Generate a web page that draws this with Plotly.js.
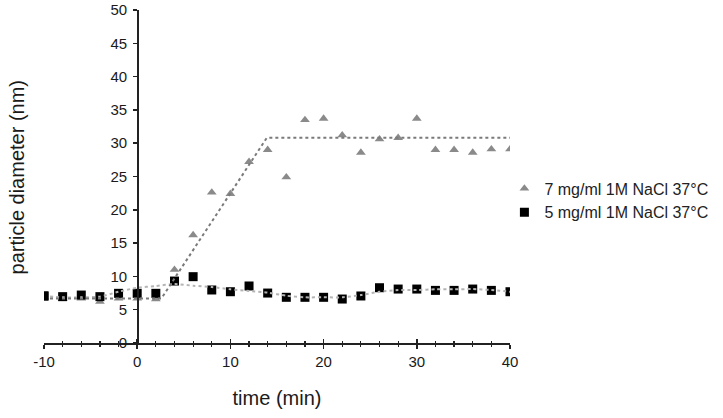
<!DOCTYPE html>
<html>
<head>
<meta charset="utf-8">
<script src="https://cdn.plot.ly/plotly-3.0.1.min.js"></script>
<style>html,body{margin:0;padding:0;background:#fff;}#chart{width:723px;height:418px;}</style>
</head>
<body>
<div id="chart"></div>
<script>
// time points (min)
const timeMin = [-10,-8,-6,-4,-2,0,2,4,6,8,10,12,14,16,18,20,22,24,26,28,30,32,34,36,38,40];
// 7 mg/ml 1M NaCl 37°C (triangles)
const diam7 = [6.9,6.7,6.7,6.2,6.7,6.7,6.6,11.0,16.2,22.6,22.4,27.2,29.0,24.9,33.5,33.7,31.2,28.6,30.6,30.8,33.7,29.0,29.0,28.6,29.1,29.1];
// 5 mg/ml 1M NaCl 37°C (squares)
const diam5 = [7.06,6.96,7.2,6.96,7.46,7.46,7.46,9.3,9.96,7.96,7.7,8.56,7.5,6.86,6.86,6.86,6.6,7.06,8.3,8.1,8.1,7.9,7.9,8.1,7.9,7.7];
// trend line of the 5 mg/ml series
const trend5 = [7.05,6.86,6.86,6.96,7.7,8.3,8.56,8.86,8.6,8.4,8.06,7.8,7.56,7.1,6.86,6.86,6.86,7.2,7.7,7.96,7.96,8.06,8.06,8.1,7.96,7.7];
// piecewise trend of the 7 mg/ml series
const trend7X = [-10,2.6,13.9,40];
const trend7Y = [6.7,6.7,30.8,30.8];
// labels
const seriesNames = ['7 mg/ml 1M NaCl 37°C','5 mg/ml 1M NaCl 37°C'];
const xTickVals = [-10,0,10,20,30,40];
const xTickText = ['-10','0','10','20','30','40'];
const xTitle = 'time (min)';
const yTitle = 'particle diameter (nm)';

const FONT = 'Liberation Sans, Arial, sans-serif';

const traces = [
  {x: timeMin, y: trend5, mode: 'lines', line: {color: '#b4b4b4', width: 2, dash: 'dot', shape: 'spline', smoothing: 0.6}, showlegend: false, hoverinfo: 'skip', xaxis: 'x', yaxis: 'y2'},
  {x: trend7X, y: trend7Y, mode: 'lines', line: {color: '#7a7a7a', width: 2, dash: 'dot'}, showlegend: false, hoverinfo: 'skip', xaxis: 'x', yaxis: 'y2'},
  {x: timeMin, y: diam7, mode: 'markers', name: seriesNames[0], marker: {symbol: 'triangle-up', size: 8.5, color: '#8a8a8a'}},
  {x: timeMin, y: diam5, mode: 'markers', name: seriesNames[1], marker: {symbol: 'square', size: 9, color: '#000000'}}
];

const layout = {
  width: 723, height: 418,
  margin: {l: 44, r: 213, t: 10, b: 75, pad: 0},
  paper_bgcolor: '#ffffff', plot_bgcolor: '#ffffff',
  font: {family: FONT, color: '#1a1a1a', size: 15},
  showlegend: true,
  legend: {x: 0.988, xanchor: 'left', y: 0.515, yanchor: 'top', font: {family: FONT, size: 16, color: '#222'}, bgcolor: 'rgba(0,0,0,0)', itemwidth: 30, tracegroupgap: 0},
  xaxis: {
    range: [-10, 40], tickvals: xTickVals, ticktext: xTickText, showgrid: false, zeroline: false,
    showline: true, linecolor: '#222', linewidth: 1.5,
    ticks: 'outside', ticklen: 4, tickwidth: 1.5, tickcolor: '#222',
    minor: {dtick: 2, tick0: 0, ticks: 'outside', ticklen: 2.5, tickwidth: 1.2, tickcolor: '#222', showgrid: false},
    tickfont: {family: FONT, size: 15, color: '#1a1a1a'},
    title: {text: xTitle, font: {family: FONT, size: 20, color: '#1a1a1a'}, standoff: 22},
    anchor: 'y', fixedrange: true
  },
  xaxis2: {
    overlaying: 'x', matches: 'x', anchor: 'y', side: 'bottom',
    range: [-10, 40], dtick: 10, tick0: 0, showgrid: false, zeroline: false, showline: false,
    ticks: 'inside', ticklen: 4, tickwidth: 1.5, tickcolor: '#222', showticklabels: false,
    minor: {dtick: 2, tick0: 0, ticks: 'inside', ticklen: 2.5, tickwidth: 1.2, tickcolor: '#222', showgrid: false}
  },
  yaxis: {
    range: [0, 50], showgrid: false, zeroline: false, showline: false, ticks: '', showticklabels: false,
    fixedrange: true
  },
  yaxis2: {
    overlaying: 'y', range: [0, 50], dtick: 5, anchor: 'free', position: 0.2, side: 'left',
    showgrid: false, zeroline: false, showline: true, linecolor: '#222', linewidth: 1.5,
    ticks: 'outside', ticklen: 4, tickwidth: 1.5, tickcolor: '#222', ticklabelstandoff: 3,
    tickfont: {family: FONT, size: 15, color: '#1a1a1a'}, fixedrange: true
  },
  annotations: [
    {text: yTitle, xref: 'paper', yref: 'paper', x: -0.058, y: 0.5, xanchor: 'center', yanchor: 'middle',
     textangle: -90, showarrow: false, font: {family: FONT, size: 20, color: '#1a1a1a'}}
  ]
};

// the inside-tick axis needs a trace to be drawn (sits on top of an existing square)
traces.push({x: [timeMin[0]], y: [diam5[0]], xaxis: 'x2', yaxis: 'y', mode: 'markers', marker: {size: 9, color: '#000000', symbol: 'square'}, showlegend: false, hoverinfo: 'skip'});

Plotly.newPlot('chart', traces, layout, {displayModeBar: false, staticPlot: true});
</script>
</body>
</html>
